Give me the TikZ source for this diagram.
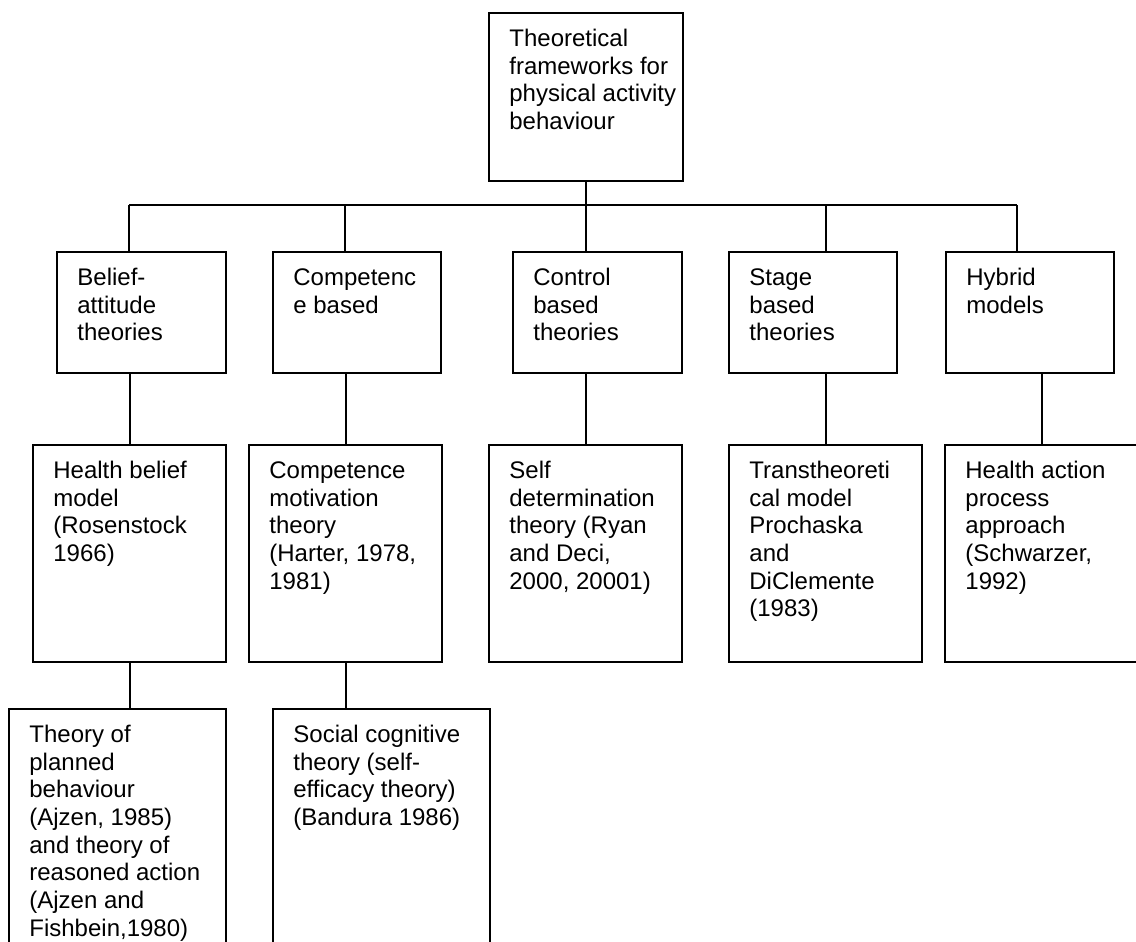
\documentclass[tikz,border=0pt]{standalone}
\usepackage{fontspec}
\setmainfont{Liberation Sans}
\usetikzlibrary{fit}
\begin{document}
\begin{tikzpicture}[x=0.5pt,y=-0.5pt,
  box/.style={draw, line width=1pt, inner sep=0pt},
  txt/.style={anchor=north west, align=left, inner sep=0pt, font=\fontsize{12pt}{13.85pt}\selectfont},
  conn/.style={line width=1pt}]
\clip (0,0) rectangle (1136,942);
\fill[white] (0,0) rectangle (1136,942);
% boxes
\node[box, fit={(489,13)(683,181)}] (top) {};
\node[box, fit={(57,252)(226,373)}] (b1) {};
\node[box, fit={(273,252)(441,373)}] (b2) {};
\node[box, fit={(513,252)(682,373)}] (b3) {};
\node[box, fit={(729,252)(897,373)}] (b4) {};
\node[box, fit={(946,252)(1114,373)}] (b5) {};
\node[box, fit={(33,445)(226,662)}] (c1) {};
\node[box, fit={(249,445)(442,662)}] (c2) {};
\node[box, fit={(489,445)(682,662)}] (c3) {};
\node[box, fit={(729,445)(922,662)}] (c4) {};
\node[box, fit={(945,445)(1138,662)}] (c5) {};
\node[box, fit={(9,709)(226,960)}] (d1) {};
\node[box, fit={(273,709)(490,960)}] (d2) {};
% texts
\node[txt] (topt) at ([shift={(21,14.6)}]top.north west) {\strut Theoretical\\frameworks for\\physical activity\\behaviour};
\node[txt] (b1t) at ([shift={(21,14.6)}]b1.north west) {\strut Belief-\\attitude\\theories};
\node[txt] (b2t) at ([shift={(21,14.6)}]b2.north west) {\strut Competenc\\e based};
\node[txt] (b3t) at ([shift={(21,14.6)}]b3.north west) {\strut Control\\based\\theories};
\node[txt] (b4t) at ([shift={(21,14.6)}]b4.north west) {\strut Stage\\based\\theories};
\node[txt] (b5t) at ([shift={(21,14.6)}]b5.north west) {\strut Hybrid\\models};
\node[txt] (c1t) at ([shift={(21,14.6)}]c1.north west) {\strut Health belief\\model\\(Rosenstock\\1966)};
\node[txt] (c2t) at ([shift={(21,14.6)}]c2.north west) {\strut Competence\\motivation\\theory\\(Harter, 1978,\\1981)};
\node[txt] (c3t) at ([shift={(21,14.6)}]c3.north west) {\strut Self\\determination\\theory (Ryan\\and Deci,\\2000, 20001)};
\node[txt] (c4t) at ([shift={(21,14.6)}]c4.north west) {\strut Transtheoreti\\cal model\\Prochaska\\and\\DiClemente\\(1983)};
\node[txt] (c5t) at ([shift={(21,14.6)}]c5.north west) {\strut Health action\\process\\approach\\(Schwarzer,\\1992)};
\node[txt] (d1t) at ([shift={(21,14.6)}]d1.north west) {\strut Theory of\\planned\\behaviour\\(Ajzen, 1985)\\and theory of\\reasoned action\\(Ajzen and\\Fishbein,1980)};
\node[txt] (d2t) at ([shift={(21,14.6)}]d2.north west) {\strut Social cognitive\\theory (self-\\efficacy theory)\\(Bandura 1986)};
% connectors
\coordinate (h1) at (129,205);
\coordinate (h2) at (345,205);
\coordinate (h3) at (586,205);
\coordinate (h4) at (826,205);
\coordinate (h5) at (1017,205);
\draw[conn] (top.south) -- (h3);
\draw[conn] (h1) -- (h5);
\draw[conn] (h1) -- (h1 |- b1.north);
\draw[conn] (h2) -- (h2 |- b2.north);
\draw[conn] (h3) -- (h3 |- b3.north);
\draw[conn] (h4) -- (h4 |- b4.north);
\draw[conn] (h5) -- (h5 |- b5.north);
\draw[conn] (c1.north) -- (c1.north |- b1.south);
\draw[conn] (c2.north) -- (c2.north |- b2.south);
\draw[conn] (c3.north) -- (c3.north |- b3.south);
\draw[conn] (c4.north) -- (c4.north |- b4.south);
\draw[conn] (c5.north) -- (c5.north |- b5.south);
\draw[conn] (c1.south) -- (c1.south |- d1.north);
\draw[conn] (c2.south) -- (c2.south |- d2.north);
\end{tikzpicture}
\end{document}
